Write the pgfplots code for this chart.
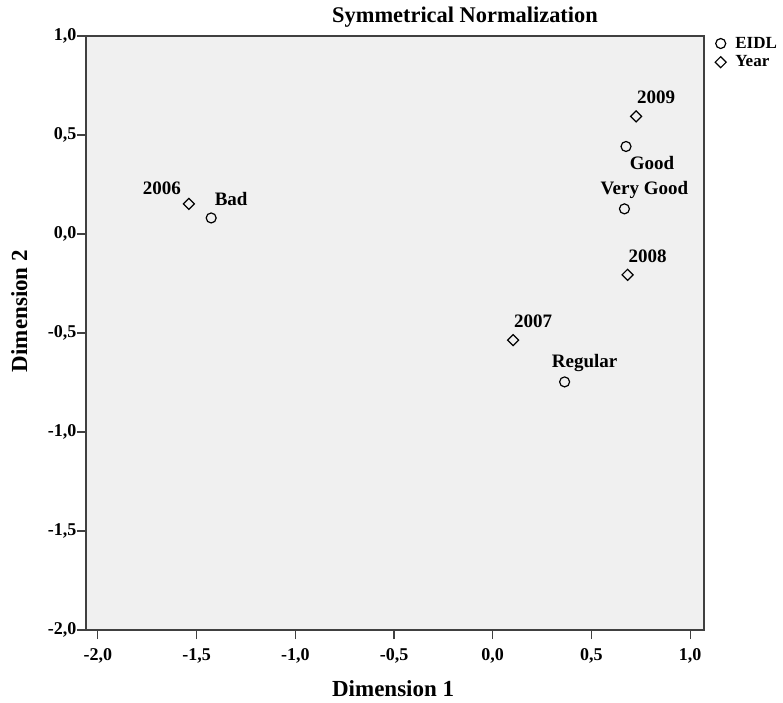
\documentclass[border=0pt]{standalone}
\usepackage{fontspec}
\setmainfont{Liberation Serif}
\usepackage{pgfplots}
\pgfplotsset{compat=1.18}

\pgfplotstableread[col sep=comma]{
x,y,label,dx,dy
-1.539,0.152,2006,-27,16
0.103,-0.536,2007,20,19
0.683,-0.206,2008,20,19
0.726,0.594,2009,20,19
}\yeartable

\pgfplotstableread[col sep=comma]{
x,y,label,dx,dy
-1.426,0.081,Bad,20,19
0.364,-0.747,Regular,20,19
0.675,0.442,Good,26,-17
0.667,0.127,Very Good,20,19
}\eidltable

\definecolor{plotbg}{RGB}{240,240,240}
\definecolor{frame}{RGB}{64,64,64}

\begin{document}
\begin{tikzpicture}
\path[use as bounding box] (-86pt,-72pt) rectangle (697pt,630pt);
\begin{axis}[
    scale only axis,
    width=618pt, height=594pt,
    xmin=-2.06, xmax=1.07,
    ymin=-2, ymax=1,
    xtick={-2,-1.5,-1,-0.5,0,0.5,1},
    ytick={-2,-1.5,-1,-0.5,0,0.5,1},
    xtick pos=bottom, ytick pos=left,
    tick align=outside,
    major tick length=9pt,
    tick style={line width=1.2pt, color=frame},
    axis line style={line width=1.5pt, color=frame},
    axis background/.style={fill=plotbg},
    tick label style={font=\fontsize{18}{18}\selectfont\bfseries},
    xticklabel style={yshift=-6pt},
    yticklabel style={xshift=3pt},
    /pgf/number format/.cd, fixed, fixed zerofill, precision=1, use comma, assume math mode=true,
    /pgfplots/.cd,
    xlabel={Dimension 1},
    ylabel={Dimension 2},
    label style={font=\fontsize{23}{23}\selectfont\bfseries},
    xlabel style={at={(axis description cs:0.497,-0.099)}, anchor=center},
    ylabel style={at={(axis description cs:-0.108,0.537)}, anchor=center},
    legend style={at={(axis description cs:1,1)}, anchor=north west, xshift=11pt, yshift=1pt,
        draw=none, fill=none, font=\fontsize{17}{17}\selectfont\bfseries,
        row sep=2pt, inner sep=0pt,
        /tikz/every even column/.append style={column sep=0pt}},
    legend cell align=left,
    legend image code/.code={\draw[#1] plot coordinates {(0pt,0pt)}; \path (-4pt,0pt) (12pt,0pt);},
    nodes near coords,
    point meta=explicit symbolic,
    visualization depends on={\thisrow{dx}\as\dx},
    visualization depends on={\thisrow{dy}\as\dy},
    nodes near coords style={font=\fontsize{19}{19}\selectfont\bfseries, anchor=center, xshift=\dx pt, yshift=\dy pt, text=black},
]
\addplot[only marks, mark=o, mark size=5pt, line width=1.2pt, black]
    table[x=x, y=y, meta=label] {\eidltable};
\addlegendentry{EIDL}
\addplot[only marks, mark=square, mark size=3.9pt, mark options={rotate=45}, line width=1.2pt, black]
    table[x=x, y=y, meta=label] {\yeartable};
\addlegendentry{Year}
\end{axis}
\node[font=\fontsize{22.4}{22.4}\selectfont\bfseries] at (379pt,613pt) {Symmetrical Normalization};
\end{tikzpicture}
\end{document}
